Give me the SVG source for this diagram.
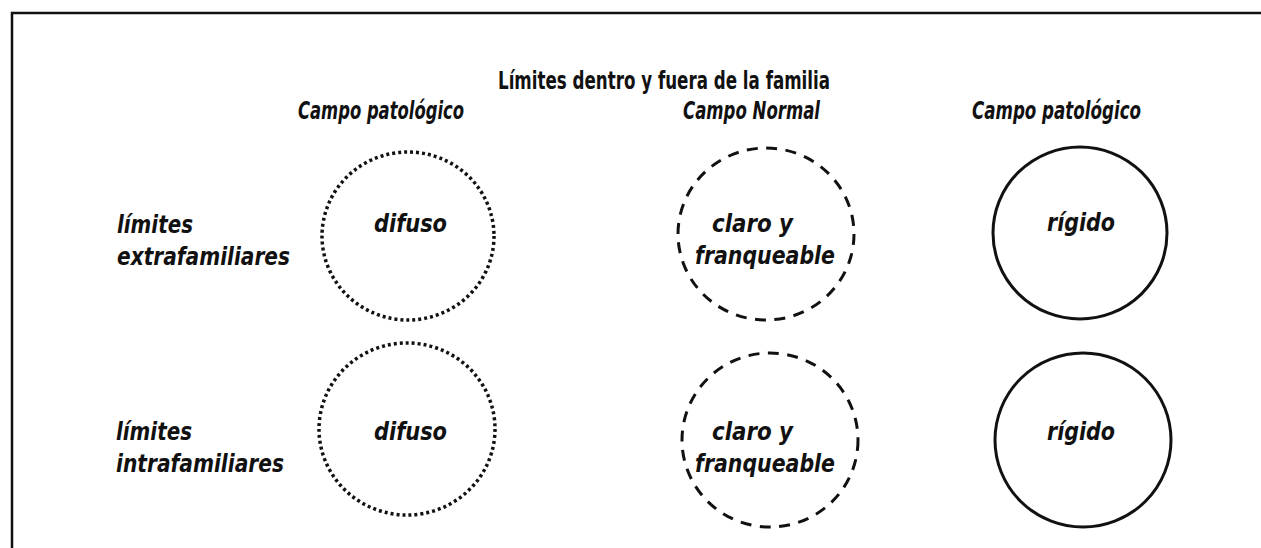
<svg xmlns="http://www.w3.org/2000/svg" width="1261" height="548" viewBox="0 0 1261 548">
<style>
.t{font-family:"DejaVu Sans Condensed","DejaVu Sans","Liberation Sans",sans-serif;font-stretch:condensed;font-style:italic;font-weight:bold;font-size:25px;fill:#111}
.title{font-family:"DejaVu Sans Condensed","DejaVu Sans","Liberation Sans",sans-serif;font-stretch:condensed;font-weight:bold;font-size:24px;fill:#111}
.c{fill:none;stroke:#111}
.dot{stroke-width:3.5;stroke-dasharray:3 3}
.dash{stroke-width:3;stroke-dasharray:11 8.5}
.solid{stroke-width:3}
</style>
<rect width="1261" height="548" fill="#fff"/>
<path d="M12,548 V13 H1261" fill="none" stroke="#111" stroke-width="2.5"/>
<g id="title"><text class="title" x="498" y="89" textLength="332" lengthAdjust="spacingAndGlyphs">Límites dentro y fuera de la familia</text></g>
<g id="headers">
<text class="t" x="298" y="119" textLength="166" lengthAdjust="spacingAndGlyphs">Campo patológico</text>
<text class="t" x="683" y="119" textLength="137" lengthAdjust="spacingAndGlyphs">Campo Normal</text>
<text class="t" x="972" y="119" textLength="169" lengthAdjust="spacingAndGlyphs">Campo patológico</text>
</g>
<g id="row-labels">
<text class="t" x="117" y="233" textLength="76" lengthAdjust="spacingAndGlyphs">límites</text>
<text class="t" x="117" y="265" textLength="173" lengthAdjust="spacingAndGlyphs">extrafamiliares</text>
<text class="t" x="116" y="440" textLength="76" lengthAdjust="spacingAndGlyphs">límites</text>
<text class="t" x="116" y="472" textLength="168" lengthAdjust="spacingAndGlyphs">intrafamiliares</text>
</g>
<g id="n-difuso-extra">
<ellipse class="c dot" cx="408" cy="236" rx="86" ry="84"/>
<text class="t" x="374" y="232" textLength="73" lengthAdjust="spacingAndGlyphs">difuso</text>
</g>
<g id="n-claro-extra">
<ellipse class="c dash" cx="766" cy="234" rx="88" ry="86"/>
<text class="t" x="712" y="232" textLength="81" lengthAdjust="spacingAndGlyphs">claro y</text>
<text class="t" x="695" y="264" textLength="140" lengthAdjust="spacingAndGlyphs">franqueable</text>
</g>
<g id="n-rigido-extra">
<ellipse class="c solid" cx="1080" cy="233" rx="87" ry="86"/>
<text class="t" x="1047" y="231" textLength="68" lengthAdjust="spacingAndGlyphs">rígido</text>
</g>
<g id="n-difuso-intra">
<ellipse class="c dot" cx="407" cy="429" rx="88" ry="86"/>
<text class="t" x="374" y="440" textLength="73" lengthAdjust="spacingAndGlyphs">difuso</text>
</g>
<g id="n-claro-intra">
<ellipse class="c dash" cx="770" cy="440" rx="88" ry="87"/>
<text class="t" x="712" y="440" textLength="81" lengthAdjust="spacingAndGlyphs">claro y</text>
<text class="t" x="695" y="472" textLength="140" lengthAdjust="spacingAndGlyphs">franqueable</text>
</g>
<g id="n-rigido-intra">
<ellipse class="c solid" cx="1083" cy="440" rx="88" ry="87"/>
<text class="t" x="1047" y="440" textLength="68" lengthAdjust="spacingAndGlyphs">rígido</text>
</g>
<g id="connectors"></g>
</svg>
